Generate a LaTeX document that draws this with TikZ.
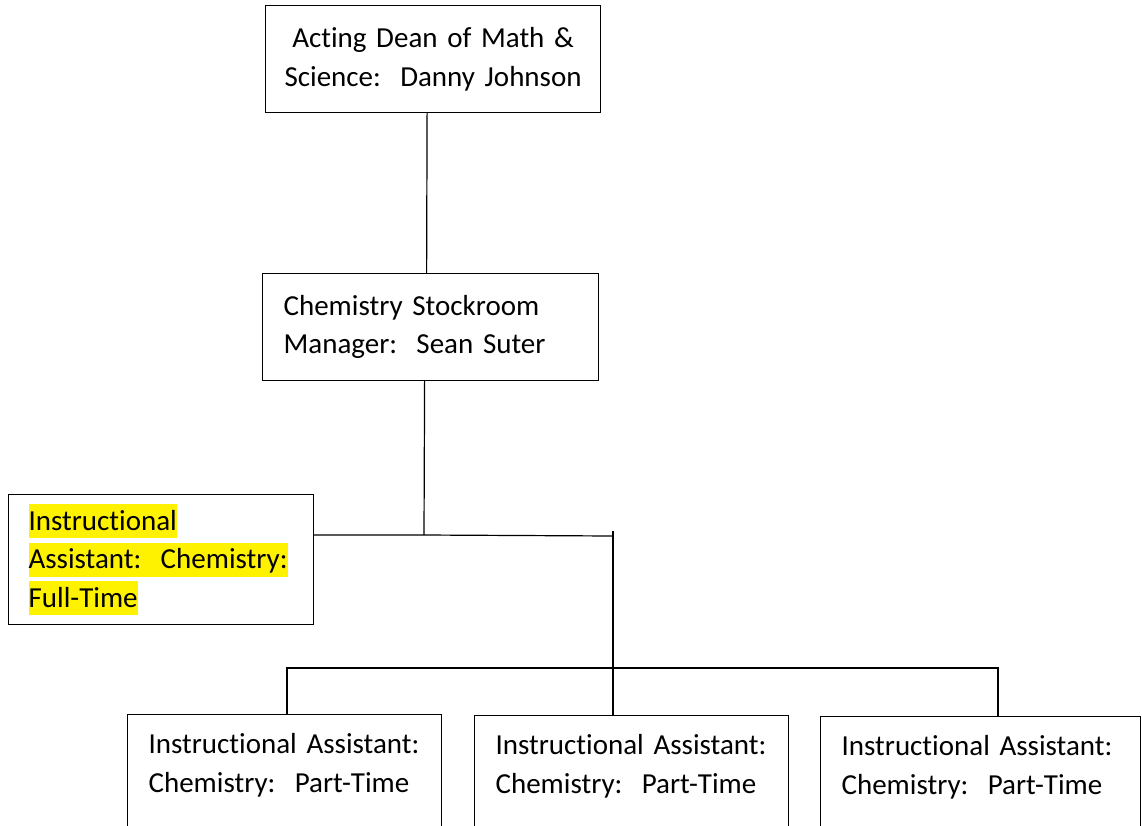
\documentclass[tikz,border=0pt]{standalone}
\usepackage{fontspec}
\setmainfont{Carlito}[Ligatures=NoCommon]
\usepackage{xcolor}
\usetikzlibrary{positioning, calc}

\newcommand{\hlyel}[1]{{\setlength{\fboxsep}{0pt}\colorbox{yellow}{\rule[-8pt]{0pt}{34pt}#1}}}
\newcommand{\boxfont}{\fontsize{29}{38.5}\selectfont\setlength{\spaceskip}{6.6pt}\setlength{\xspaceskip}{6.6pt}}

\begin{document}
\begin{tikzpicture}[x=1pt, y=-1pt,
  box/.style={draw, line width=1.2pt, anchor=north west, inner xsep=21pt, inner ysep=0pt,
              align=left, font=\boxfont},
  wire/.style={line width=1.2pt}]
  \useasboundingbox (0,0) rectangle (1142,825);
  \clip (0,0) rectangle (1142,825);

  \node[box, align=center, inner xsep=5pt, text width=325pt, minimum width=335pt, minimum height=107pt]
    (dean) at (265,5) {Acting Dean of Math \&\\Science:\ \ Danny Johnson};
  \node[box, text width=294pt, minimum width=336pt, minimum height=107pt]
    (mgr) at (262,273) {Chemistry Stockroom\\Manager:\ \ Sean Suter};
  \node[box, inner xsep=20pt, text width=265pt, minimum width=305pt, minimum height=130pt]
    (ft) at (8,494) {\hlyel{Instructional}\\\hlyel{Assistant:\ \ Chemistry:}\\\hlyel{Full-Time}};

  % part-time assistants (boxes run off the page)
  \node[box, text width=272pt, minimum width=314pt, minimum height=147pt]
    (pt1) at (127,714) {Instructional Assistant:\\Chemistry:\ \ Part-Time\\\strut};
  \node[box, text width=272pt, minimum width=314pt, minimum height=147pt]
    (pt2) at (474,715) {Instructional Assistant:\\Chemistry:\ \ Part-Time\\\strut};
  \node[box, text width=278pt, minimum width=320pt, minimum height=147pt]
    (pt3) at (820,716) {Instructional Assistant:\\Chemistry:\ \ Part-Time\\\strut};

  \coordinate (tee) at (424,535);
  \coordinate (split) at (613,536);
  \coordinate (barl) at (287,668);
  \coordinate (barr) at (998,668);

  \draw[wire] ([xshift=-6pt]dean.south) -- ([xshift=-4pt]mgr.north);
  \draw[wire] ([xshift=-6pt]mgr.south) -- (tee);
  \draw[wire] (ft.east |- tee) -- (tee) -- (split);
  \draw[wire] ([yshift=5pt]split) -- (pt2.north -| split);
  \draw[wire] (pt1.north -| barl) -- (barl) -- (barr) -- (pt3.north -| barr);
\end{tikzpicture}
\end{document}
